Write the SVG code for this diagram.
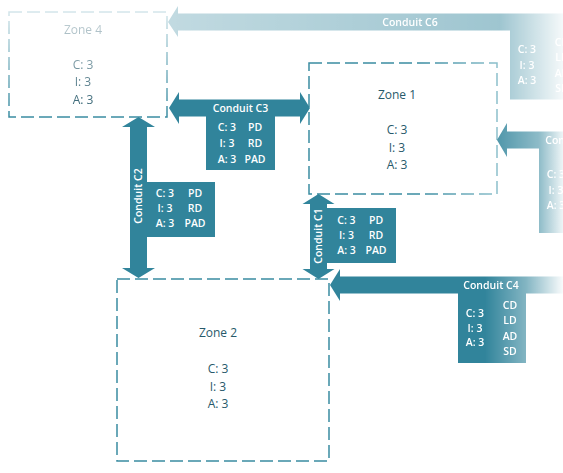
<svg xmlns="http://www.w3.org/2000/svg" width="563" height="473" viewBox="0 0 563 473">
<style>
.zone{fill:none;stroke:#3A8CA1;stroke-width:1.5;stroke-dasharray:13 5}
.zt{font-family:"Open Sans","Noto Sans",sans-serif;font-size:12px;fill:#27596A;text-anchor:middle}
.arr{fill:#31849B}
.lbl{font-family:"Open Sans","Noto Sans",sans-serif;font-size:10.5px;font-weight:600;fill:#fff;text-anchor:middle}
</style>
<defs>
<linearGradient id="gC4" gradientUnits="userSpaceOnUse" x1="485" y1="0" x2="563" y2="0">
<stop offset="0" stop-color="#fff"/><stop offset="0.53" stop-color="#fff" stop-opacity="0.6"/><stop offset="1" stop-color="#fff" stop-opacity="0.03"/>
</linearGradient>
<mask id="mC4" maskUnits="userSpaceOnUse" x="0" y="0" width="563" height="473"><rect width="563" height="473" fill="url(#gC4)"/></mask>
<linearGradient id="gC5" gradientUnits="userSpaceOnUse" x1="490" y1="0" x2="563" y2="0">
<stop offset="0" stop-color="#fff" stop-opacity="0.9"/><stop offset="0.67" stop-color="#fff" stop-opacity="0.55"/><stop offset="1" stop-color="#fff" stop-opacity="0.08"/>
</linearGradient>
<mask id="mC5" maskUnits="userSpaceOnUse" x="0" y="0" width="563" height="473"><rect width="563" height="473" fill="url(#gC5)"/></mask>
<linearGradient id="gC6" gradientUnits="userSpaceOnUse" x1="168" y1="0" x2="563" y2="0">
<stop offset="0" stop-color="#fff" stop-opacity="0.3"/><stop offset="0.84" stop-color="#fff" stop-opacity="0.47"/><stop offset="1" stop-color="#fff" stop-opacity="0.05"/>
</linearGradient>
<mask id="mC6" maskUnits="userSpaceOnUse" x="0" y="0" width="563" height="473"><rect width="563" height="473" fill="url(#gC6)"/></mask>
<linearGradient id="gZ4" gradientUnits="userSpaceOnUse" x1="0" y1="12" x2="0" y2="117">
<stop offset="0" stop-color="#fff" stop-opacity="0.22"/><stop offset="1" stop-color="#fff"/>
</linearGradient>
<mask id="mZ4" maskUnits="userSpaceOnUse" x="0" y="0" width="563" height="473"><rect width="563" height="473" fill="url(#gZ4)"/></mask>
<linearGradient id="gZ1" gradientUnits="userSpaceOnUse" x1="420" y1="0" x2="497" y2="0">
<stop offset="0" stop-color="#3A8CA1"/><stop offset="1" stop-color="#8CBFCB"/>
</linearGradient>
</defs>
<rect width="563" height="473" fill="#fff"/>

<g id="zone4" mask="url(#mZ4)">
<rect class="zone" x="9" y="12" width="158" height="105"/>
<text class="zt" x="83" y="34">Zone 4</text>
<text class="zt" x="83" y="68.5">C: 3</text>
<text class="zt" x="83" y="86">I: 3</text>
<text class="zt" x="83" y="103.5">A: 3</text>
</g>

<g id="zone1">
<rect class="zone" x="309" y="63" width="188" height="131" style="stroke:url(#gZ1)"/>
<text class="zt" x="397" y="99">Zone 1</text>
<text class="zt" x="397" y="134">C: 3</text>
<text class="zt" x="397" y="151.5">I: 3</text>
<text class="zt" x="397" y="169">A: 3</text>
</g>

<g id="zone2">
<rect class="zone" x="117" y="279" width="212" height="182"/>
<text class="zt" x="218" y="337">Zone 2</text>
<text class="zt" x="218" y="373">C: 3</text>
<text class="zt" x="218" y="391">I: 3</text>
<text class="zt" x="218" y="408">A: 3</text>
</g>

<g id="connectors">
<g id="conduit-c6" mask="url(#mC6)">
<path class="arr" d="M168,22 L178,6 L178,13.5 L575,13.5 L575,30.5 L178,30.5 L178,37 Z"/>
<rect class="arr" x="510" y="30" width="68" height="69.5"/>
<text class="lbl" x="410" y="26">Conduit C6</text>
<text class="lbl" x="527" y="53">C: 3</text>
<text class="lbl" x="527" y="69">I: 3</text>
<text class="lbl" x="527" y="84">A: 3</text>
<text class="lbl" x="562" y="45.5">CD</text>
<text class="lbl" x="562" y="61">LD</text>
<text class="lbl" x="562" y="76.5">AD</text>
<text class="lbl" x="562" y="92">SD</text>
</g>

<g id="conduit-c5" mask="url(#mC5)">
<path class="arr" d="M497,140 L507,123 L507,131.5 L575,131.5 L575,148.5 L507,148.5 L507,157 Z"/>
<rect class="arr" x="539" y="148" width="68" height="85"/>
<text class="lbl" x="573" y="144">Conduit C5</text>
<text class="lbl" x="556" y="178">C: 3</text>
<text class="lbl" x="556" y="194">I: 3</text>
<text class="lbl" x="556" y="209">A: 3</text>
</g>

<g id="conduit-c3">
<path class="arr" d="M169,108 L179,92 L179,99.5 L300,99.5 L300,92 L310,108 L300,124 L300,116.5 L179,116.5 L179,124 Z"/>
<rect class="arr" x="206" y="116" width="69" height="54"/>
<text class="lbl" x="240.5" y="111.5">Conduit C3</text>
<text class="lbl" x="227" y="131">C: 3</text>
<text class="lbl" x="227" y="146.5">I: 3</text>
<text class="lbl" x="227" y="162.5">A: 3</text>
<text class="lbl" x="255" y="131">PD</text>
<text class="lbl" x="255" y="146.5">RD</text>
<text class="lbl" x="255" y="162.5">PAD</text>
</g>

<g id="conduit-c2">
<path class="arr" d="M138.5,117 L155,127 L147,127 L147,268 L155,268 L138.5,278 L122,268 L130,268 L130,127 L122,127 Z"/>
<rect class="arr" x="146.5" y="182" width="68.5" height="55"/>
<text class="lbl" transform="translate(142.3,196) rotate(-90)" x="0" y="0">Conduit C2</text>
<text class="lbl" x="165" y="197">C: 3</text>
<text class="lbl" x="165" y="212">I: 3</text>
<text class="lbl" x="165" y="227">A: 3</text>
<text class="lbl" x="195" y="197">PD</text>
<text class="lbl" x="195" y="212">RD</text>
<text class="lbl" x="195" y="227">PAD</text>
</g>

<g id="conduit-c1">
<path class="arr" d="M318.5,194 L334.5,204 L327,204 L327,269 L334.5,269 L318.5,279 L302.5,269 L310,269 L310,204 L302.5,204 Z"/>
<rect class="arr" x="326.5" y="208" width="69.5" height="55"/>
<text class="lbl" transform="translate(322.3,236) rotate(-90)" x="0" y="0">Conduit C1</text>
<text class="lbl" x="346.5" y="224">C: 3</text>
<text class="lbl" x="346.5" y="239">I: 3</text>
<text class="lbl" x="346.5" y="254">A: 3</text>
<text class="lbl" x="376" y="224">PD</text>
<text class="lbl" x="376" y="239">RD</text>
<text class="lbl" x="376" y="254">PAD</text>
</g>

<g id="conduit-c4" mask="url(#mC4)">
<path class="arr" d="M330,285 L340,269 L340,276.5 L575,276.5 L575,293.5 L340,293.5 L340,301 Z"/>
<rect class="arr" x="458" y="293" width="68" height="70"/>
<text class="lbl" x="491" y="289">Conduit C4</text>
<text class="lbl" x="475" y="316.7">C: 3</text>
<text class="lbl" x="475" y="331.7">I: 3</text>
<text class="lbl" x="475" y="346.3">A: 3</text>
<text class="lbl" x="510" y="309">CD</text>
<text class="lbl" x="510" y="324">LD</text>
<text class="lbl" x="510" y="339.7">AD</text>
<text class="lbl" x="510" y="354.7">SD</text>
</g>
</g>
</svg>
